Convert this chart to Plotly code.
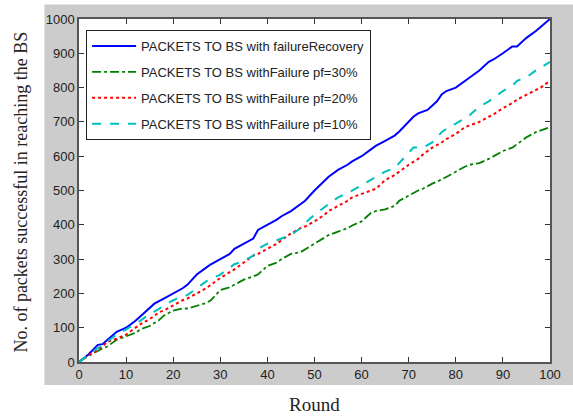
import plotly.graph_objects as go

rounds_blue = [0, 2, 4, 5, 6, 8, 10, 12, 14, 16, 18, 20, 22, 23, 25, 27, 28, 30, 32, 33, 35, 37, 38, 40, 42, 43, 45, 47, 48, 50, 52, 53, 55, 57, 58, 60, 62, 63, 65, 67, 68, 70, 71, 72, 74, 76, 77, 78, 80, 82, 83, 85, 87, 88, 90, 92, 93, 95, 97, 100]
blue = [0, 22, 50, 52, 64, 88, 100, 120, 145, 170, 185, 200, 215, 225, 255, 275, 285, 300, 315, 330, 345, 360, 385, 400, 415, 425, 440, 460, 470, 500, 525, 540, 560, 575, 585, 600, 620, 630, 645, 660, 672, 700, 715, 725, 735, 760, 780, 790, 800, 820, 830, 850, 875, 882, 900, 920, 920, 945, 965, 1000]

rounds_g = [0, 2, 4, 5, 6, 8, 10, 12, 13, 15, 17, 18, 20, 22, 23, 25, 27, 28, 30, 32, 33, 35, 37, 38, 40, 42, 43, 45, 47, 48, 50, 52, 53, 55, 57, 58, 60, 62, 63, 65, 67, 68, 70, 72, 73, 75, 77, 78, 80, 82, 83, 85, 87, 88, 90, 92, 93, 95, 97, 100]
green = [0, 18, 32, 40, 45, 65, 75, 85, 95, 105, 122, 135, 150, 156, 156, 165, 172, 180, 210, 218, 225, 240, 250, 255, 280, 290, 300, 315, 320, 328, 345, 360, 370, 380, 390, 398, 410, 435, 440, 445, 455, 470, 485, 500, 505, 520, 532, 540, 555, 570, 575, 580, 592, 600, 615, 625, 635, 655, 670, 685]

rounds_r = [0, 2, 4, 5, 6, 8, 10, 12, 13, 15, 17, 18, 20, 22, 23, 25, 27, 28, 30, 32, 33, 35, 37, 38, 40, 42, 43, 45, 47, 48, 50, 52, 53, 55, 57, 58, 60, 62, 63, 65, 67, 68, 70, 72, 73, 75, 77, 78, 80, 82, 83, 85, 87, 88, 90, 92, 93, 95, 97, 98, 100]
red = [0, 20, 35, 45, 59, 68, 80, 100, 110, 125, 145, 150, 165, 180, 185, 200, 215, 225, 245, 262, 270, 290, 310, 315, 330, 345, 355, 375, 390, 395, 410, 428, 440, 455, 470, 480, 490, 500, 505, 530, 545, 555, 575, 592, 605, 625, 640, 650, 665, 685, 690, 700, 715, 722, 740, 755, 765, 780, 795, 800, 820]

rounds_c = [0, 2, 4, 5, 6, 8, 10, 12, 13, 15, 17, 18, 20, 22, 23, 25, 27, 28, 30, 32, 33, 35, 37, 38, 40, 42, 43, 45, 47, 48, 50, 52, 53, 55, 57, 58, 60, 62, 63, 65, 67, 68, 70, 71, 73, 75, 77, 78, 80, 82, 83, 85, 87, 88, 90, 92, 93, 95, 97, 100]
cyan = [0, 22, 40, 50, 58, 80, 95, 112, 120, 140, 155, 165, 180, 192, 195, 215, 235, 242, 255, 275, 285, 295, 310, 330, 345, 355, 360, 370, 390, 405, 430, 450, 460, 480, 492, 500, 515, 530, 540, 555, 565, 580, 610, 625, 625, 640, 670, 680, 695, 712, 720, 745, 760, 770, 790, 805, 820, 830, 850, 875]

names = [
    "PACKETS TO BS with failureRecovery",
    "PACKETS TO BS withFailure pf=30%",
    "PACKETS TO BS withFailure pf=20%",
    "PACKETS TO BS withFailure pf=10%",
]

fig = go.Figure()
fig.add_trace(go.Scatter(x=rounds_blue, y=blue, mode="lines", name=names[0], legendgroup="a",
                         line=dict(color="#0000FF", width=2, dash="solid")))
fig.add_trace(go.Scatter(x=rounds_g, y=green, mode="lines", name=names[1], legendgroup="b",
                         line=dict(color="#008000", width=1.8, dash="dashdot")))
fig.add_trace(go.Scatter(x=rounds_r, y=red, mode="lines", name=names[2], legendgroup="c",
                         line=dict(color="#FF0000", width=2, dash="dot")))
fig.add_trace(go.Scatter(x=rounds_c, y=cyan, mode="lines", name=names[3], legendgroup="d",
                         line=dict(color="#00BFBF", width=2, dash="dash")))

# grey figure background, then white plot area
fig.add_shape(type="rect", xref="paper", yref="paper", x0=-0.0734, x1=1.1, y0=-0.067, y1=1.042,
              fillcolor="#CCCCCC", line=dict(width=0), layer="below")
fig.add_shape(type="rect", xref="paper", yref="paper", x0=0, x1=1, y0=0, y1=1,
              fillcolor="white", line=dict(width=0), layer="below")

axis_common = dict(showline=True, linecolor="#555555", linewidth=1.5, mirror="ticks",
                   ticks="inside", ticklen=5, tickcolor="#333333", showgrid=False, zeroline=False,
                   tickfont=dict(family="Liberation Sans, Arial", size=13, color="#222222"))

fig.update_xaxes(range=[0, 100], tickvals=list(range(0, 101, 10)), **axis_common)
fig.update_yaxes(range=[0, 1000], tickvals=list(range(0, 1001, 100)), **axis_common)

fig.add_annotation(text="Round", xref="paper", yref="paper", x=0.5, y=-0.125,
                   xanchor="center", yanchor="middle", showarrow=False,
                   font=dict(family="Liberation Serif, Times New Roman", size=19, color="#222222"))
fig.add_annotation(text="No. of packets successful in reaching the BS", xref="paper", yref="paper",
                   x=-0.1237, y=0.496, textangle=-90, xanchor="center", yanchor="middle",
                   showarrow=False,
                   font=dict(family="Liberation Serif, Times New Roman", size=18, color="#222222"))

fig.update_layout(
    width=573, height=420,
    margin=dict(l=79, r=17, t=19, b=58),
    paper_bgcolor="white", plot_bgcolor="white",
    legend=dict(x=0.015, y=0.968, xanchor="left", yanchor="top",
                bgcolor="white", bordercolor="#222222", borderwidth=1,
                font=dict(family="Liberation Sans, Arial", size=13, color="#222222"),
                itemwidth=44,
                traceorder="grouped", tracegroupgap=6),
    showlegend=True,
)

fig.write_html("out.html")
